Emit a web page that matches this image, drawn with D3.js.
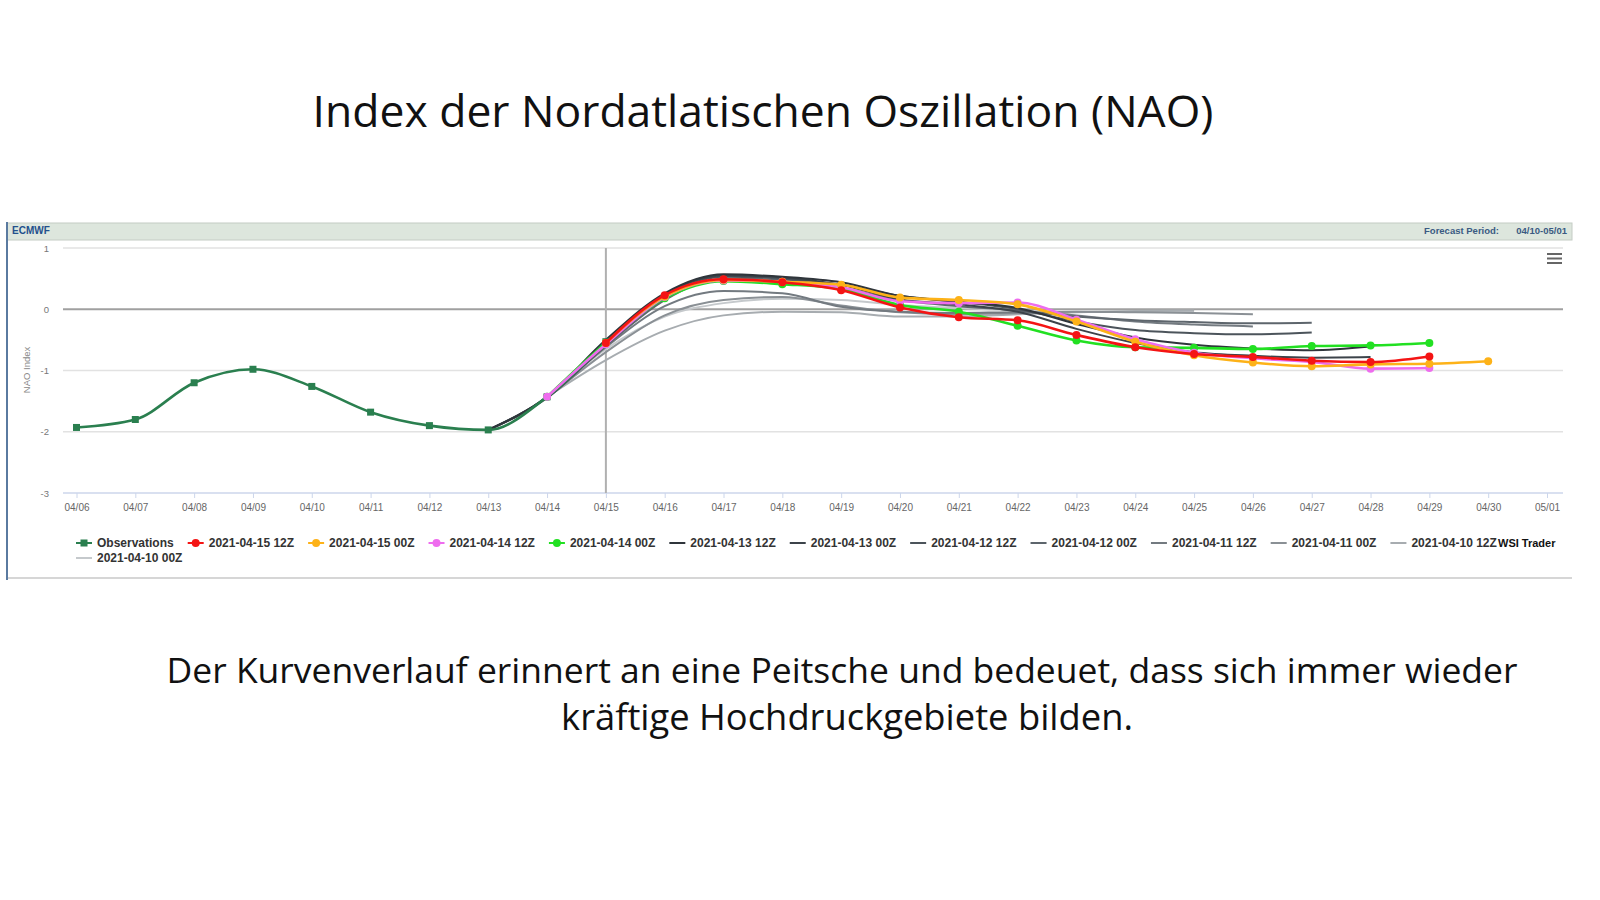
<!DOCTYPE html>
<html>
<head>
<meta charset="utf-8">
<script src="https://cdn.jsdelivr.net/npm/d3@7"></script>
<style>
body { margin: 0; background: #fff; }
svg { display: block; }
</style>
</head>
<body>
<script>
var CANVAS_WIDTH = 1600;
var CANVAS_HEIGHT = 900;

// x axis categories (one per day) and y ticks
var dayLabels = ["04/06", "04/07", "04/08", "04/09", "04/10", "04/11", "04/12", "04/13",
                 "04/14", "04/15", "04/16", "04/17", "04/18", "04/19", "04/20", "04/21",
                 "04/22", "04/23", "04/24", "04/25", "04/26", "04/27", "04/28", "04/29",
                 "04/30", "05/01"];
var yTicks = [1, 0, -1, -2, -3];
var initDay = "04/15";   // plot line

// series, in legend order
var seriesNames = ["Observations", "2021-04-15 12Z", "2021-04-15 00Z", "2021-04-14 12Z",
                   "2021-04-14 00Z", "2021-04-13 12Z", "2021-04-13 00Z", "2021-04-12 12Z",
                   "2021-04-12 00Z", "2021-04-11 12Z", "2021-04-11 00Z", "2021-04-10 12Z",
                   "2021-04-10 00Z"];
var seriesStarts = ["04/06", "04/15", "04/15", "04/14", "04/14", "04/13", "04/13", "04/13",
                    "04/13", "04/14", "04/14", "04/14", "04/14"];

var obsValues  = [-1.93, -1.80, -1.20, -0.98, -1.26, -1.68, -1.90, -1.97, -1.43, -0.53];
var run1512z   = [-0.55, 0.23, 0.49, 0.44, 0.31, 0.03, -0.13, -0.18, -0.42, -0.62, -0.73,
                  -0.78, -0.84, -0.86, -0.77];
var run1500z   = [-0.55, 0.21, 0.48, 0.45, 0.40, 0.19, 0.15, 0.08, -0.20, -0.53, -0.75,
                  -0.87, -0.93, -0.90, -0.89, -0.85];
var run1412z   = [-1.43, -0.57, 0.20, 0.47, 0.45, 0.36, 0.13, 0.10, 0.11, -0.17, -0.49,
                  -0.71, -0.80, -0.86, -0.97, -0.96];
var run1400z   = [-1.43, -0.55, 0.18, 0.46, 0.41, 0.33, 0.07, -0.04, -0.27, -0.51, -0.62,
                  -0.63, -0.65, -0.60, -0.59, -0.55];
var run1312z   = [-1.97, -1.43, -0.50, 0.26, 0.57, 0.53, 0.44, 0.22, 0.12, 0.02, -0.24,
                  -0.46, -0.58, -0.64, -0.67, -0.61];
var run1300z   = [-1.97, -1.43, -0.52, 0.24, 0.55, 0.52, 0.40, 0.16, 0.08, -0.04, -0.32,
                  -0.55, -0.70, -0.76, -0.79, -0.78];
var run1212z   = [-1.97, -1.45, -0.58, 0.20, 0.53, 0.50, 0.40, 0.22, 0.12, 0.00, -0.20,
                  -0.34, -0.39, -0.41, -0.38];
var run1200z   = [-1.97, -1.44, -0.60, 0.15, 0.50, 0.48, 0.35, 0.15, 0.05, -0.02, -0.12,
                  -0.18, -0.21, -0.23, -0.22];
var run1112z   = [-1.45, -0.62, 0.05, 0.30, 0.26, 0.04, -0.04, -0.06, -0.05, -0.10, -0.20,
                  -0.25, -0.28];
var run1100z   = [-1.45, -0.70, -0.10, 0.15, 0.20, 0.06, -0.05, -0.08, -0.06, -0.04, -0.05,
                  -0.06, -0.08];
var run1012z   = [-1.43, -0.83, -0.35, -0.10, -0.04, -0.05, -0.12, -0.12, -0.08, -0.05,
                  -0.03, -0.02];
var run1000z   = [-1.43, -0.65, -0.12, 0.10, 0.17, 0.15, 0.07, 0.02, -0.02, -0.04, -0.04,
                  -0.03];

var seriesValues = [obsValues, run1512z, run1500z, run1412z, run1400z, run1312z, run1300z,
                    run1212z, run1200z, run1112z, run1100z, run1012z, run1000z];

var seriesColors = ["#2a7f4f", "#f41414", "#fdb218", "#ee6cee", "#22e022", "#2f353b",
                    "#3c434a", "#4c545b", "#5d656c", "#737a80", "#8a9095", "#a7acb0", "#c5c9cc"];
var seriesMarkers = ["square", "circle", "circle", "circle", "circle", null, null, null,
                     null, null, null, null, null];
var drawOrder = [12, 11, 10, 9, 8, 7, 6, 5, 0, 4, 3, 2, 1];

var FONT = "'Liberation Sans', Arial, sans-serif";
var TITLE_FONT = "'Open Sans', 'Noto Sans', sans-serif";

function parseDay(s) {
    var p = s.split("/");
    return new Date(Date.UTC(2021, +p[0] - 1, +p[1]));
}

var canvas = d3.select("body")
    .append("svg")
    .attr("width", CANVAS_WIDTH)
    .attr("height", CANVAS_HEIGHT);

// scale font size so a text gets a given width
function fitText(sel, targetWidth) {
    sel.attr("font-size", 40);
    var w = sel.node().getComputedTextLength();
    sel.attr("font-size", 40 * targetWidth / w);
    return sel;
}

// ---- title and caption ----
fitText(canvas.append("text")
    .attr("x", 763).attr("y", 127)
    .attr("text-anchor", "middle")
    .attr("font-family", TITLE_FONT)
    .attr("fill", "#111")
    .text("Index der Nordatlatischen Oszillation (NAO)"), 901);

fitText(canvas.append("text")
    .attr("x", 842).attr("y", 683)
    .attr("text-anchor", "middle")
    .attr("font-family", TITLE_FONT)
    .attr("fill", "#111")
    .text("Der Kurvenverlauf erinnert an eine Peitsche und bedeuet, dass sich immer wieder"), 1351);

fitText(canvas.append("text")
    .attr("x", 847).attr("y", 730)
    .attr("text-anchor", "middle")
    .attr("font-family", TITLE_FONT)
    .attr("fill", "#111")
    .text("kräftige Hochdruckgebiete bilden."), 572);

// ---- chart frame ----
var FRAME_L = 7, FRAME_R = 1572, BAR_TOP = 223, BAR_BOTTOM = 240, FRAME_BOTTOM = 578;

canvas.append("rect")
    .attr("x", FRAME_L).attr("y", BAR_TOP)
    .attr("width", FRAME_R - FRAME_L).attr("height", BAR_BOTTOM - BAR_TOP)
    .attr("fill", "#dde6dd")
    .attr("stroke", "#c4ccc4")
    .attr("stroke-width", 1);

canvas.append("line")
    .attr("x1", FRAME_L).attr("x2", FRAME_R)
    .attr("y1", FRAME_BOTTOM).attr("y2", FRAME_BOTTOM)
    .attr("stroke", "#c8c8c8").attr("stroke-width", 1.5);

canvas.append("line")
    .attr("x1", FRAME_L).attr("x2", FRAME_L)
    .attr("y1", BAR_TOP - 1).attr("y2", FRAME_BOTTOM + 2)
    .attr("stroke", "#5a7aa0").attr("stroke-width", 2);

canvas.append("text")
    .attr("x", 12).attr("y", 234)
    .attr("font-family", FONT).attr("font-size", 10).attr("font-weight", "bold")
    .attr("fill", "#23508c")
    .text("ECMWF");

canvas.append("text")
    .attr("x", 1499).attr("y", 234)
    .attr("text-anchor", "end")
    .attr("font-family", FONT).attr("font-size", 9.5).attr("font-weight", "bold")
    .attr("fill", "#3a5a82")
    .text("Forecast Period:");

canvas.append("text")
    .attr("x", 1567).attr("y", 234)
    .attr("text-anchor", "end")
    .attr("font-family", FONT).attr("font-size", 9.5).attr("font-weight", "bold")
    .attr("fill", "#3a5a82")
    .text("04/10-05/01");

// hamburger menu
[254, 258.5, 263].forEach(function (yy) {
    canvas.append("line")
        .attr("x1", 1547).attr("x2", 1562)
        .attr("y1", yy).attr("y2", yy)
        .attr("stroke", "#666").attr("stroke-width", 2);
});

// ---- scales ----
var PLOT_L = 63, PLOT_R = 1563, PLOT_T = 248, PLOT_B = 493;

var x = d3.scaleUtc()
    .domain([parseDay(dayLabels[0]), parseDay(dayLabels[dayLabels.length - 1])])
    .range([76.5, 1547]);

var y = d3.scaleLinear()
    .domain([-3, 1])
    .range([PLOT_B, PLOT_T]);

// grid lines
yTicks.forEach(function (t) {
    canvas.append("line")
        .attr("x1", PLOT_L).attr("x2", PLOT_R)
        .attr("y1", y(t)).attr("y2", y(t))
        .attr("stroke", t === 0 ? "#a0a0a0" : (t === -3 ? "#ccd6eb" : "#e2e2e2"))
        .attr("stroke-width", t === 0 ? 2 : 1.3);
});

// y tick labels
var yAxis = d3.axisLeft(y)
    .tickValues(yTicks)
    .tickFormat(function (d) { return String(d); })
    .tickSize(0)
    .tickPadding(0);
var gy = canvas.append("g")
    .attr("transform", "translate(49,0)")
    .call(yAxis);
gy.select(".domain").remove();
gy.selectAll("text")
    .attr("font-family", FONT).attr("font-size", 9.5).attr("fill", "#777")
    .attr("x", 0);

canvas.append("text")
    .attr("transform", "translate(30,370) rotate(-90)")
    .attr("text-anchor", "middle")
    .attr("font-family", FONT).attr("font-size", 9.5)
    .attr("fill", "#888")
    .text("NAO Index");

// x axis
var xAxis = d3.axisBottom(x)
    .tickValues(dayLabels.map(parseDay))
    .tickFormat(function (d, i) { return dayLabels[i]; })
    .tickSize(5)
    .tickPadding(6);
var gx = canvas.append("g")
    .attr("transform", "translate(0," + PLOT_B + ")")
    .call(xAxis);
gx.select(".domain").remove();
gx.selectAll(".tick line").attr("stroke", "#ccd6eb");
gx.selectAll("text")
    .attr("font-family", FONT).attr("font-size", 10).attr("fill", "#666");

// plot line at initialisation day
canvas.append("line")
    .attr("x1", x(parseDay(initDay))).attr("x2", x(parseDay(initDay)))
    .attr("y1", PLOT_T).attr("y2", PLOT_B)
    .attr("stroke", "#b0b0b0").attr("stroke-width", 2);

// ---- series ----
function seriesPoints(i) {
    var start = parseDay(seriesStarts[i]);
    return seriesValues[i].map(function (v, k) {
        return { date: d3.utcDay.offset(start, k), v: v };
    });
}

var lineGen = d3.line()
    .x(function (d) { return x(d.date); })
    .y(function (d) { return y(d.v); })
    .curve(d3.curveMonotoneX);

drawOrder.forEach(function (i) {
    var pts = seriesPoints(i);
    var g = canvas.append("g").attr("class", "series");
    var isGray = seriesMarkers[i] === null;
    g.append("path")
        .attr("d", lineGen(pts))
        .attr("fill", "none")
        .attr("stroke", seriesColors[i])
        .attr("stroke-width", isGray ? 2 : 2.6);
    if (seriesMarkers[i] === "circle") {
        g.selectAll("circle").data(pts).enter().append("circle")
            .attr("cx", function (d) { return x(d.date); })
            .attr("cy", function (d) { return y(d.v); })
            .attr("r", 4)
            .attr("fill", seriesColors[i]);
    } else if (seriesMarkers[i] === "square") {
        g.selectAll("rect").data(pts).enter().append("rect")
            .attr("x", function (d) { return x(d.date) - 3.5; })
            .attr("y", function (d) { return y(d.v) - 3.5; })
            .attr("width", 7).attr("height", 7)
            .attr("fill", seriesColors[i]);
    }
});

// ---- legend ----
var LEGEND_ROWS = [547, 562];
var legendX = 76, legendRow = 0;
seriesNames.forEach(function (name, i) {
    var ly = LEGEND_ROWS[legendRow];
    var g = canvas.append("g").attr("class", "legend-item");
    var txt = g.append("text")
        .attr("x", legendX + 21).attr("y", ly)
        .attr("font-family", FONT).attr("font-size", 12).attr("font-weight", "bold")
        .attr("fill", "#333")
        .text(name);
    var w = txt.node().getComputedTextLength();
    if (legendX + 21 + w > 1520) {
        legendRow += 1;
        legendX = 76;
        ly = LEGEND_ROWS[legendRow];
        txt.attr("x", legendX + 21).attr("y", ly);
    }
    var cy = ly - 4;
    g.append("line")
        .attr("x1", legendX).attr("x2", legendX + 16)
        .attr("y1", cy).attr("y2", cy)
        .attr("stroke", seriesColors[i]).attr("stroke-width", 2);
    if (seriesMarkers[i] === "circle") {
        g.append("circle").attr("cx", legendX + 8).attr("cy", cy).attr("r", 4)
            .attr("fill", seriesColors[i]);
    } else if (seriesMarkers[i] === "square") {
        g.append("rect").attr("x", legendX + 4.5).attr("y", cy - 3.5)
            .attr("width", 7).attr("height", 7)
            .attr("fill", seriesColors[i]);
    }
    legendX += 21 + w + 14;
});

canvas.append("text")
    .attr("x", 1498).attr("y", 547)
    .attr("font-family", FONT).attr("font-size", 11).attr("font-weight", "bold")
    .attr("fill", "#111")
    .text("WSI Trader");
</script>
</body>
</html>
